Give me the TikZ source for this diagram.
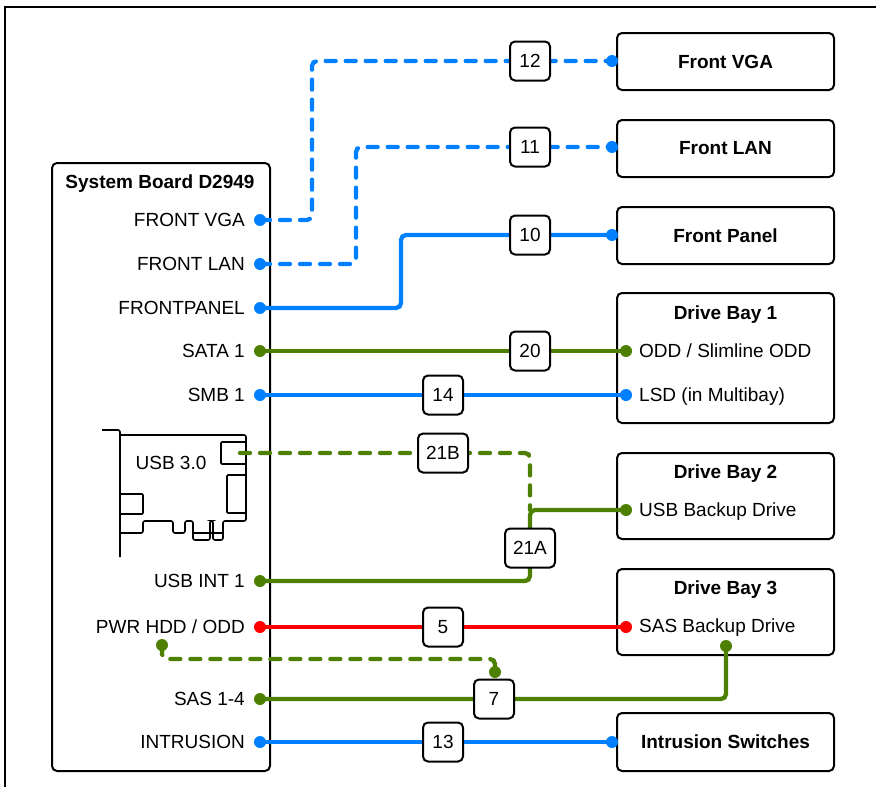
\documentclass[tikz,border=0pt]{standalone}
\usepackage{fontspec}
\setmainfont{Liberation Sans}
\definecolor{cblue}{RGB}{0,128,255}
\definecolor{cgreen}{RGB}{77,128,0}
\definecolor{cred}{RGB}{255,0,0}

\begin{document}
\begin{tikzpicture}[x=1pt,y=-1pt,
  font=\fontsize{19}{23}\selectfont,
  unit/.style={draw, line width=2pt, rounded corners=5pt, minimum width=217pt, inner sep=0pt},
  unittitle/.style={anchor=base, inner sep=0pt, font=\fontsize{19}{23}\selectfont\bfseries},
  portlabel/.style={anchor=base east, inner sep=0pt},
  baylabel/.style={anchor=base west, inner sep=0pt},
  tag/.style={draw, fill=white, line width=2pt, rounded corners=5pt,
    minimum width=40pt, minimum height=39pt, inner sep=0pt},
  widetag/.style={tag, minimum width=50pt},
  wire/.style={line width=4.3pt, rounded corners=5pt},
  dashwire/.style={wire, line cap=round, dash pattern=on 10pt off 10pt},
  card/.style={line width=1.6pt, rounded corners=2pt}]

\useasboundingbox (0,0) rectangle (876,787);

% outer frame
\draw[line width=2.5pt] (5,787) -- (5,7) -- (876,7);

% ---------- system board ----------
\node[unit, minimum width=218pt, minimum height=608pt] (board) at (161,467) {};
\node[unittitle] (boardtitle) at (160,188) {System Board D2949};

\node[portlabel] (lVGA)  at (245,226.8) {FRONT VGA};
\node[portlabel] (lLAN)  at (245,270.8) {FRONT LAN};
\node[portlabel] (lFP)   at (245,314.8) {FRONTPANEL};
\node[portlabel] (lSATA) at (245,357.8) {SATA 1};
\node[portlabel] (lSMB)  at (245,401.8) {SMB 1};
\node[portlabel] (lUSB)  at (245,587.8) {USB INT 1};
\node[portlabel] (lPWR)  at (245,633.8) {PWR HDD / ODD};
\node[portlabel] (lSAS)  at (245,705.8) {SAS 1-4};
\node[portlabel] (lINT)  at (245,748.8) {INTRUSION};

% USB 3.0 expansion card
\draw[card] (102,430) -- (120,430) -- (120,557);
\draw[card, rounded corners=1pt] (120,494) rectangle (143,514);
\draw[card] (120,533) -- (143,533) -- (143,521) -- (173,521) -- (173,533)
  -- (185,533) -- (185,521) -- (193,521) -- (193,540) -- (210,540)
  -- (210,521) -- (213,521) -- (213,540) -- (223,540) -- (223,521)
  -- (246,521) -- (246,435) -- (120,435);
\draw[card, sharp corners] (193,533) -- (223,533);
\draw[card, rounded corners=1pt] (221,442) rectangle (246,464);
\draw[card, rounded corners=1pt] (227,475) rectangle (246,513);
\node (usb3) at (171,463) {USB 3.0};

% ---------- peripheral units ----------
\node[unit, minimum height=57pt] (fvga) at (725.5,61.5) {\bfseries Front VGA};
\node[unit, minimum height=57pt] (flan) at (725.5,148.5) {\bfseries Front LAN};
\node[unit, minimum height=57pt] (fpan) at (725.5,235.5) {\bfseries Front Panel};

\node[unit, minimum height=130pt] (bay1) at (725.5,358) {};
\node[unittitle] (bay1t) at (725.5,319) {Drive Bay 1};
\node[baylabel] (odd) at (639,357.8) {ODD / Slimline ODD};
\node[baylabel] (lsd) at (639,401.8) {LSD (in Multibay)};

\node[unit, minimum height=86pt] (bay2) at (725.5,496) {};
\node[unittitle] (bay2t) at (725.5,478) {Drive Bay 2};
\node[baylabel] (usbb) at (639,516.8) {USB Backup Drive};

\node[unit, minimum height=86pt] (bay3) at (725.5,612) {};
\node[unittitle] (bay3t) at (725.5,594.5) {Drive Bay 3};
\node[baylabel] (sasb) at (639,632.8) {SAS Backup Drive};

\node[unit, minimum height=58pt] (intr) at (725.5,742) {\bfseries Intrusion Switches};

% ---------- connector end points ----------
\coordinate (pVGA)  at (260,220);
\coordinate (pLAN)  at (260,264);
\coordinate (pFP)   at (260,308);
\coordinate (pSATA) at (260,351);
\coordinate (pSMB)  at (260,395);
\coordinate (pUSB)  at (260,581);
\coordinate (pPWR)  at (260,627);
\coordinate (pSAS)  at (260,699);
\coordinate (pINT)  at (260,742);

\coordinate (tVGA)  at (612,61);
\coordinate (tLAN)  at (612,147);
\coordinate (tFP)   at (612,235);
\coordinate (tODD)  at (626,351);
\coordinate (tLSD)  at (626,395);
\coordinate (tUSB)  at (626,510);
\coordinate (tSASD) at (626,627);
\coordinate (tSASB) at (726,646);
\coordinate (tINT)  at (612,742);

\coordinate (cUSB3) at (240,453);
\coordinate (j21)   at (530,510);
\coordinate (auxA)  at (162,645);
\coordinate (auxB)  at (495,672);

% ---------- cables ----------
\draw[dashwire, cblue] (pVGA) -- ++(52,0) |- (tVGA);
\draw[dashwire, cblue] (pLAN) -- ++(96,0) |- (tLAN);
\draw[wire, cblue] (pFP) -- ++(141,0) |- (tFP);
\draw[wire, cgreen] (pSATA) -- (tODD);
\draw[wire, cblue] (pSMB) -- (tLSD);
\draw[dashwire, cgreen] (cUSB3) -| (j21);
\draw[wire, cgreen] (pUSB) -| (j21) -- (tUSB);
\draw[wire, cred] (pPWR) -- (tSASD);
\draw[dashwire, cgreen] (auxA) -- ++(0,14) -| (auxB);
\draw[wire, cgreen] (pSAS) -| (tSASB);
\draw[wire, cblue] (pINT) -- (tINT);

% connector dots
\foreach \p in {pVGA,pLAN,pFP,pSMB,pINT,tVGA,tLAN,tFP,tLSD,tINT}
  \fill[cblue] (\p) circle (6pt);
\foreach \p in {pSATA,pUSB,pSAS,tODD,tUSB,tSASB,auxA,auxB}
  \fill[cgreen] (\p) circle (6pt);
\foreach \p in {pPWR,tSASD}
  \fill[cred] (\p) circle (6pt);

% cable numbers
\node[tag] (n12) at (530,61) {12};
\node[tag] (n11) at (530,147) {11};
\node[tag] (n10) at (530,235) {10};
\node[tag] (n20) at (530,351) {20};
\node[tag] (n14) at (443,395) {14};
\node[widetag] (n21B) at (443,453) {21B};
\node[widetag] (n21A) at (530,548) {21A};
\node[tag] (n5) at (443,627) {5};
\node[tag] (n7) at (494,699) {7};
\node[tag] (n13) at (443,742) {13};

\end{tikzpicture}
\end{document}
